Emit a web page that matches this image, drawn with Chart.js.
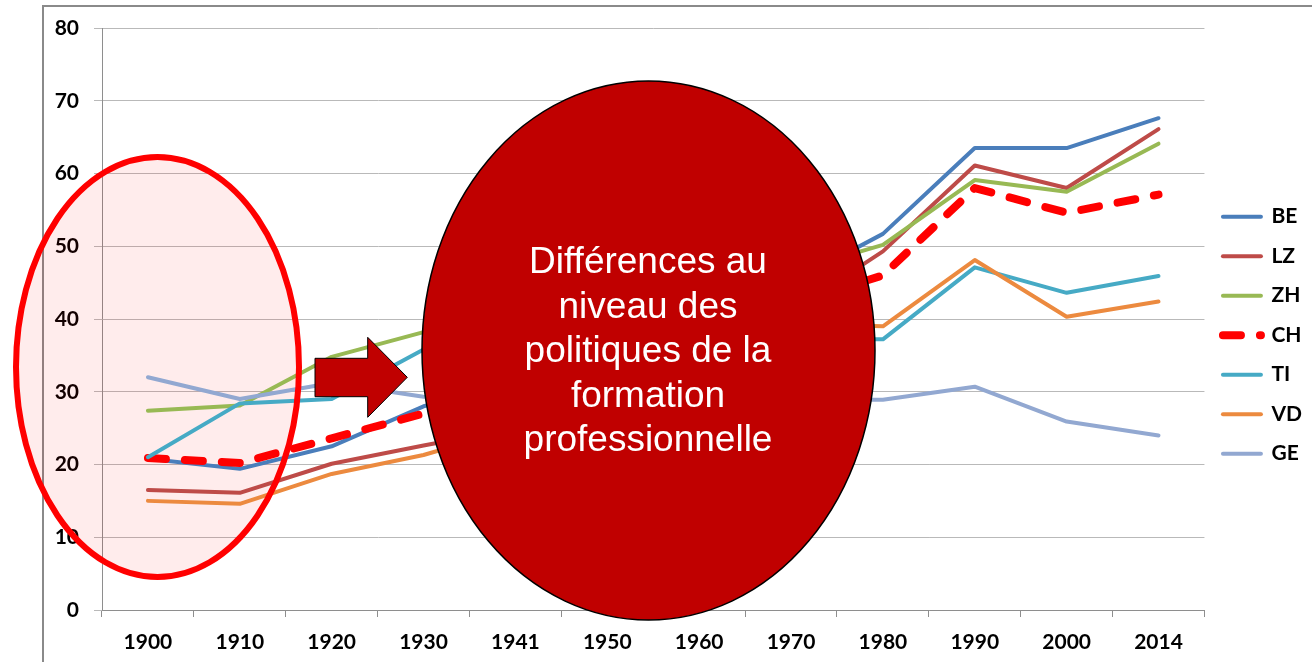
<!DOCTYPE html>
<html>
<head>
<meta charset="utf-8">
<script src="https://cdn.jsdelivr.net/npm/chart.js@4"></script>
<style>
  html, body { margin: 0; padding: 0; background: #fff; overflow: hidden; }
  canvas { display: block; }
</style>
</head>
<body>
<canvas id="chart" width="1312" height="662"></canvas>
<script>
// categories (years) and series values
const years = ['1900', '1910', '1920', '1930', '1941', '1950', '1960', '1970', '1980', '1990', '2000', '2014'];
const BE = [20.8, 19.4, 22.5, 28.0, 31, 35, 40, 45, 51.7, 63.5, 63.5, 67.6];
const LZ = [16.5, 16.1, 20.1, 22.6, 25, 29, 35, 41, 49.3, 61.1, 58.0, 66.1];
const ZH = [27.4, 28.1, 34.8, 38.2, 40, 42, 44, 46.5, 50.2, 59.1, 57.5, 64.1];
const CH = [20.9, 20.2, 23.6, 27.0, 30, 34, 38, 42, 46, 58.0, 54.6, 57.1];
const TI = [21.0, 28.4, 29.0, 35.8, 36, 36.5, 37, 37.2, 37.2, 47.1, 43.6, 45.9];
const VD = [15.0, 14.6, 18.7, 21.3, 25, 30, 35, 39.3, 39.0, 48.1, 40.3, 42.4];
const GE = [32.0, 29.0, 31.2, 29.3, 29, 29, 29, 28.9, 28.9, 30.7, 25.9, 24.0];
const yTicks = [0, 10, 20, 30, 40, 50, 60, 70, 80];

const bubbleText = ['Différences au', 'niveau des', 'politiques de la', 'formation', 'professionnelle'];

const series = [
  { label: 'BE', data: BE, color: '#4A7EBB' },
  { label: 'LZ', data: LZ, color: '#BE4B48' },
  { label: 'ZH', data: ZH, color: '#98B954' },
  { label: 'CH', data: CH, color: '#FF0000', dash: [18, 19], width: 8 },
  { label: 'TI', data: TI, color: '#46AAC5' },
  { label: 'VD', data: VD, color: '#EC8A3F' },
  { label: 'GE', data: GE, color: '#92A8D1' }
];

const datasets = series.map((s, i) => ({
  label: s.label,
  data: s.data,
  borderColor: s.color,
  backgroundColor: s.color,
  borderWidth: s.width || 4,
  borderDash: s.dash || [],
  borderCapStyle: 'round',
  borderJoinStyle: 'round',
  pointRadius: 0,
  tension: 0,
  fill: false,
  order: series.length - i   // later series drawn on top, like Excel
}));

const labelFont = { family: 'Lato', size: 21, weight: 'bold' };

// frame, pink highlight, arrow and the big red bubble
const decorations = {
  id: 'decorations',
  beforeDraw(chart) {
    const ctx = chart.ctx;
    ctx.save();
    ctx.fillStyle = '#fff';
    ctx.fillRect(0, 0, chart.width, chart.height);
    ctx.strokeStyle = '#8a8a8a';
    ctx.lineWidth = 2;
    ctx.strokeRect(43, 6, 2000, 2000);
    ctx.restore();
  },
  beforeDatasetsDraw(chart) {
    const ctx = chart.ctx;
    ctx.save();
    ctx.beginPath();
    ctx.ellipse(157.5, 367, 141.5, 210, 0, 0, Math.PI * 2);
    ctx.fillStyle = 'rgba(255, 0, 0, 0.075)';
    ctx.fill();
    ctx.restore();
  },
  afterDraw(chart) {
    const ctx = chart.ctx;
    ctx.save();
    // pink ellipse outline
    ctx.beginPath();
    ctx.ellipse(157.5, 367, 141.5, 210, 0, 0, Math.PI * 2);
    ctx.strokeStyle = '#FF0000';
    ctx.lineWidth = 6;
    ctx.stroke();

    // block arrow
    ctx.beginPath();
    ctx.moveTo(315, 358.3);
    ctx.lineTo(367.7, 358.3);
    ctx.lineTo(367.7, 337.3);
    ctx.lineTo(407.3, 377.3);
    ctx.lineTo(367.7, 417.3);
    ctx.lineTo(367.7, 396.7);
    ctx.lineTo(315, 396.7);
    ctx.closePath();
    ctx.fillStyle = '#C00000';
    ctx.fill();
    ctx.strokeStyle = '#000';
    ctx.lineWidth = 1;
    ctx.stroke();

    // big bubble
    ctx.beginPath();
    ctx.ellipse(648.5, 350.5, 226.5, 269.5, 0, 0, Math.PI * 2);
    ctx.fillStyle = '#C00000';
    ctx.fill();
    ctx.strokeStyle = '#000';
    ctx.lineWidth = 1.5;
    ctx.stroke();

    ctx.fillStyle = '#fff';
    ctx.font = '37px "Liberation Sans", Arial, sans-serif';
    ctx.textAlign = 'center';
    ctx.textBaseline = 'middle';
    bubbleText.forEach((line, i) => {
      ctx.fillText(line, 648, 352 + (i - 2) * 44.5);
    });
    ctx.restore();
  }
};

new Chart(document.getElementById('chart'), {
  type: 'line',
  data: { labels: years, datasets: datasets },
  options: {
    responsive: false,
    animation: false,
    events: [],
    layout: { padding: { top: 28, bottom: 0, left: 0, right: 0 } },
    plugins: {
      tooltip: { enabled: false },
      legend: {
        position: 'right',
        align: 'center',
        fullSize: false,
        reverse: true,
        // empty title only pushes the legend items down a little
        title: { display: true, text: '', font: { size: 27 }, padding: 0 },
        labels: {
          color: '#000',
          font: labelFont,
          usePointStyle: true,
          pointStyle: 'line',
          pointStyleWidth: 38,
          padding: 18.5,
          generateLabels(chart) {
            const items = Chart.defaults.plugins.legend.labels.generateLabels(chart);
            items.forEach(item => {
              const ds = chart.data.datasets[item.datasetIndex];
              item.lineDash = ds.borderDash;
              item.lineCap = 'round';
              item.lineWidth = ds.borderWidth;
              item.strokeStyle = ds.borderColor;
            });
            return items;
          }
        }
      }
    },
    scales: {
      x: {
        offset: true,
        grid: {
          offset: true,
          drawOnChartArea: false,
          drawTicks: true,
          tickLength: 7,
          color: '#8e8e8e'
        },
        border: { color: '#8e8e8e', width: 1 },
        ticks: { color: '#000', font: labelFont, padding: 13, maxRotation: 0, autoSkip: false },
        afterFit(scale) { scale.height = 52; }
      },
      y: {
        min: 0,
        max: 80,
        afterBuildTicks(scale) { scale.ticks = yTicks.map(v => ({ value: v })); },
        grid: { color: '#b9b9b9', tickLength: 8, drawTicks: true },
        border: { color: '#8e8e8e', width: 1 },
        ticks: { color: '#000', font: labelFont, padding: 15 },
        afterFit(scale) { scale.width = 102; }
      }
    }
  },
  plugins: [decorations]
});
</script>
</body>
</html>
